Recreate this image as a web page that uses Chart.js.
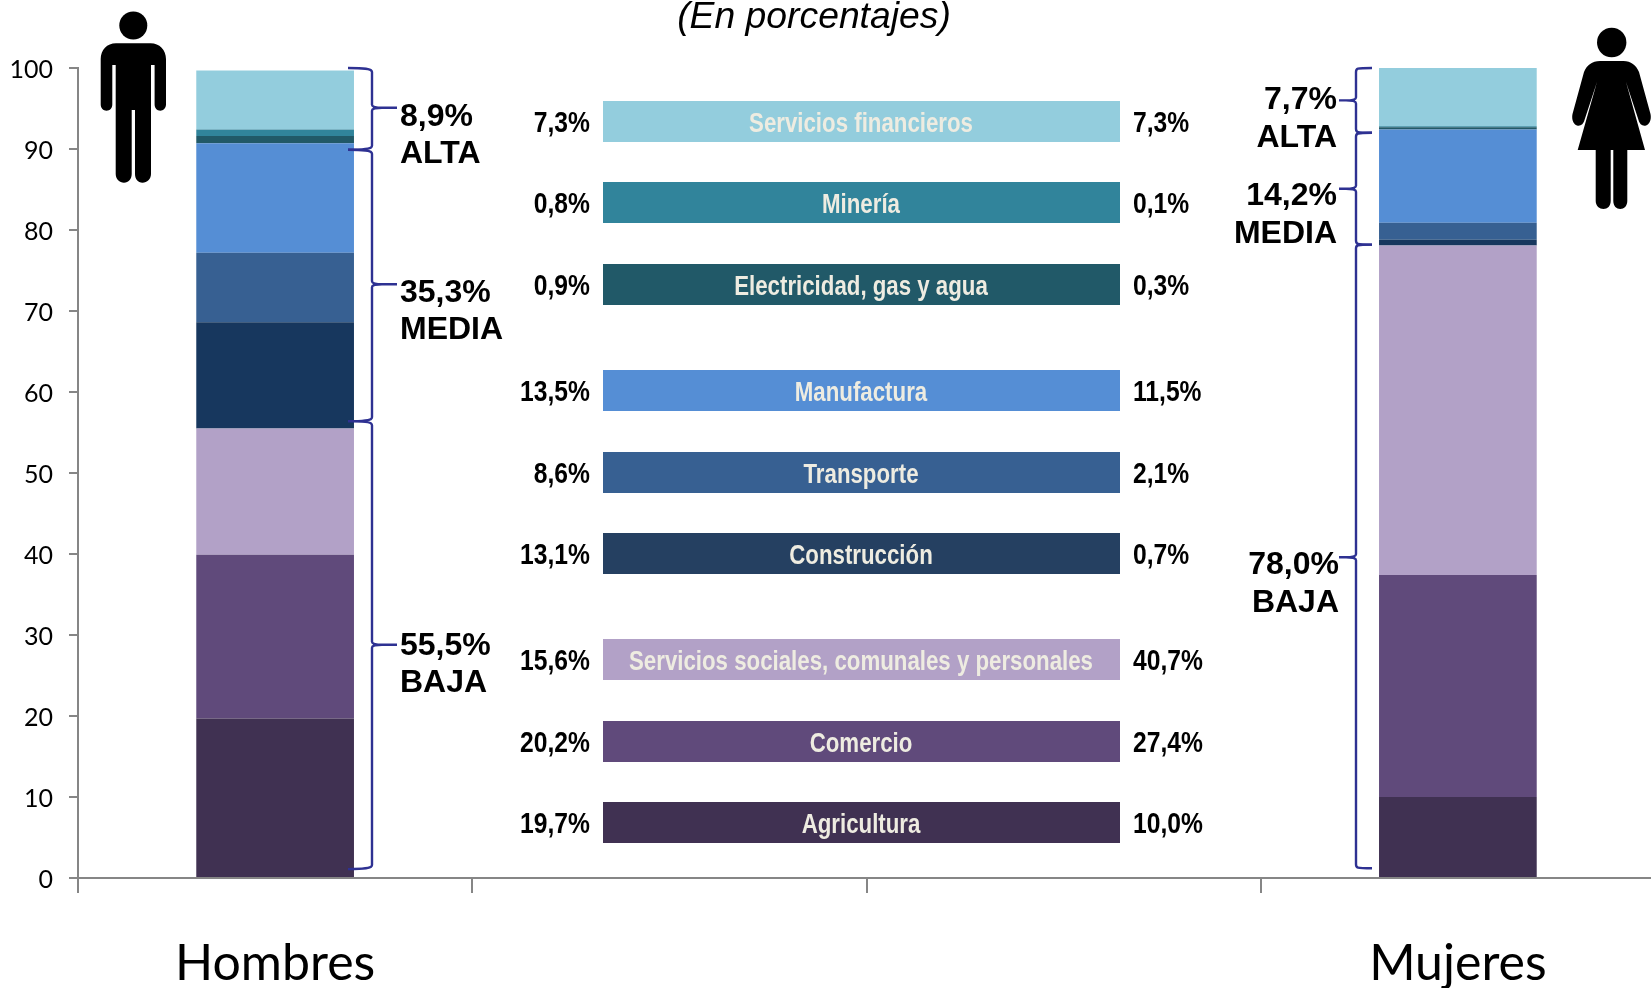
<!DOCTYPE html>
<html lang="es">
<head>
<meta charset="utf-8">
<title>Empleo por sector</title>
<script src="https://cdn.jsdelivr.net/npm/chart.js@4/dist/chart.umd.min.js"></script>
<style>
  html, body { margin: 0; padding: 0; background: #fff; overflow: hidden; }
  #wrap { position: relative; width: 1651px; height: 988px; overflow: hidden; }
  canvas { display: block; }
  #icons { position: absolute; left: 0; top: 0; }
</style>
</head>
<body>
<div id="wrap">
  <canvas id="chart" width="1655" height="988" style="width:1655px;height:988px"></canvas>
  <svg id="icons" width="1651" height="988" viewBox="0 0 1651 988">
    <!-- hombre -->
    <g fill="#000">
      <circle cx="133.3" cy="25.5" r="14"/>
      <path d="M116 43.3H150.6C159.5 43.3 166 50 166 59V104.5C166 108 163.2 110.7 160.3 110.7C157 110.7 154.6 108 154.6 104.5V65H151V174C151 179 147 182.7 142.5 182.7C138 182.7 135 179 135 174V110H131.7V174C131.7 179 128.5 182.7 124 182.7C119.5 182.7 115.7 179 115.7 174V65H112.3V104.5C112.3 108 110 110.7 106.5 110.7C103.3 110.7 100.7 108 100.7 104.5V59C100.7 50 107 43.3 116 43.3Z"/>
      <!-- mujer -->
      <circle cx="1611.7" cy="42.5" r="14.7"/>
      <path d="M1600 61H1623.5C1631 61 1636 65 1639 72L1650.5 114C1651.5 119 1650 124 1646 125.5C1642.5 126.5 1639.5 124 1638.5 120L1626 82L1645 150H1627.3V201C1627.3 206 1624 209 1620.3 209C1616.5 209 1613.3 206 1613.3 201V150H1610.7V201C1610.7 206 1607.5 209 1603.5 209C1599.5 209 1595.7 206 1595.7 201V150H1577.7L1597 82L1584.5 120C1583.5 124 1580.5 126.5 1577 125.5C1573 124 1571.5 119 1572.5 114L1584 72C1587 65 1592 61 1600 61Z"/>
    </g>
  </svg>
</div>
<script>
// orden de arriba hacia abajo, igual que la leyenda central
const sectors = [
  "Servicios financieros",
  "Minería",
  "Electricidad, gas y agua",
  "Manufactura",
  "Transporte",
  "Construcción",
  "Servicios sociales, comunales y personales",
  "Comercio",
  "Agricultura",
];
const hombres = [7.3, 0.8, 0.9, 13.5, 8.6, 13.1, 15.6, 20.2, 19.7];
const mujeres = [7.3, 0.1, 0.3, 11.5, 2.1, 0.7, 40.7, 27.4, 10.0];
const categories = ["Hombres", "", "", "Mujeres"];
const barColors = ["#93CDDD", "#31849B", "#215968", "#558ED5", "#376092", "#17375E", "#B2A1C7", "#604A7B", "#403152"];
const legendColors = ["#93CDDD", "#31849B", "#215968", "#558ED5", "#376092", "#254061", "#B2A1C7", "#604A7B", "#403152"];

// llaves: límites y punta en valores del eje
const hombresBrace = { ends: [100, 89.9, 56.4, 1.1], tips: [95.1, 73.3, 28.8] };
const mujeresBrace = { ends: [100, 92, 78.2, 1.2], tips: [96, 85.1, 39.6] };
const hombresGroups = ["8,9%", "ALTA", "35,3%", "MEDIA", "55,5%", "BAJA"];
const mujeresGroups = ["7,7%", "ALTA", "14,2%", "MEDIA", "78,0%", "BAJA"];

const legendTops = [101, 182, 264, 370, 452, 533, 639, 721, 802];
const hombresBaselines = [126, 163, 302, 339, 655, 692];
const mujeresBaselines = [109, 147, 205, 243, 574, 612];

const fmt = (v) => v.toFixed(1).replace(".", ",") + "%";

// no hay Arial Narrow instalada: Liberation Sans comprimida en horizontal
function narrowText(ctx, text, x, y, squeeze) {
  ctx.save();
  ctx.translate(x, y);
  ctx.scale(squeeze, 1);
  ctx.fillText(text, 0, 0);
  ctx.restore();
}

function drawBrace(ctx, yScale, brace, xSpine, xEnd, xTip) {
  const dir = Math.sign(xSpine - xEnd);
  ctx.strokeStyle = "#2E3192";
  ctx.lineWidth = 2.4;
  brace.tips.forEach((tip, i) => {
    const y0 = yScale.getPixelForValue(brace.ends[i]);
    const y1 = yScale.getPixelForValue(brace.ends[i + 1]);
    const ym = yScale.getPixelForValue(tip);
    ctx.beginPath();
    ctx.moveTo(xEnd, y0);
    ctx.bezierCurveTo(xEnd + dir * 16, y0, xSpine, y0 + 0.5, xSpine, y0 + 4);
    ctx.lineTo(xSpine, ym - 3);
    ctx.quadraticCurveTo(xSpine, ym, xSpine + dir * 10, ym);
    ctx.lineTo(xTip, ym);
    ctx.moveTo(xSpine + dir * 10, ym);
    ctx.quadraticCurveTo(xSpine, ym, xSpine, ym + 3);
    ctx.lineTo(xSpine, y1 - 4);
    ctx.bezierCurveTo(xSpine, y1 - 0.5, xEnd + dir * 16, y1, xEnd, y1);
    ctx.stroke();
  });
}

const annotations = {
  id: "annotations",
  afterDatasetsDraw(chart) {
    const { ctx } = chart;
    const yScale = chart.scales.y;
    ctx.save();

    // título
    ctx.fillStyle = "#000";
    ctx.font = 'italic 37.3px "Liberation Sans"';
    ctx.textAlign = "center";
    ctx.textBaseline = "alphabetic";
    ctx.fillText("(En porcentajes)", 814, 28);

    // leyenda central
    sectors.forEach((name, i) => {
      const top = legendTops[i];
      ctx.fillStyle = legendColors[i];
      ctx.fillRect(603, top, 517, 41);
      ctx.textBaseline = "alphabetic";
      ctx.font = 'bold 28px "Liberation Sans"';
      ctx.textAlign = "center";
      ctx.fillStyle = "#EEECE1";
      narrowText(ctx, name, 861, top + 31, 0.795);
      ctx.font = 'bold 29px "Liberation Sans"';
      ctx.fillStyle = "#000";
      ctx.textAlign = "right";
      narrowText(ctx, fmt(hombres[i]), 590, top + 31, 0.85);
      ctx.textAlign = "left";
      narrowText(ctx, fmt(mujeres[i]), 1133, top + 31, 0.85);
    });

    // llaves
    drawBrace(ctx, yScale, hombresBrace, 372, 348, 397);
    drawBrace(ctx, yScale, mujeresBrace, 1356, 1372, 1339);

    // grupos de productividad
    ctx.font = 'bold 32px "Liberation Sans"';
    ctx.fillStyle = "#000";
    ctx.textAlign = "left";
    hombresGroups.forEach((t, i) => ctx.fillText(t, 400, hombresBaselines[i]));
    ctx.textAlign = "right";
    mujeresGroups.forEach((t, i) => ctx.fillText(t, i < 4 ? 1337 : 1339, mujeresBaselines[i]));
    ctx.restore();
  },
};

new Chart(document.getElementById("chart"), {
  type: "bar",
  data: {
    labels: categories,
    datasets: sectors.map((name, i) => ({
      label: name,
      data: [hombres[i], null, null, mujeres[i]],
      backgroundColor: barColors[i],
    })).reverse(),
  },
  options: {
    responsive: false,
    animation: false,
    barPercentage: 0.4,
    categoryPercentage: 1,
    layout: { padding: { top: 68, left: 0, right: 0, bottom: 0 } },
    plugins: { legend: { display: false }, tooltip: { enabled: false } },
    scales: {
      x: {
        stacked: true,
        afterFit: (scale) => { scale.height = 110; },
        border: { color: "#868686", width: 2 },
        grid: { color: "#868686", lineWidth: 2, tickLength: 15, drawOnChartArea: false },
        ticks: {
          color: "#000",
          padding: 41,
          maxRotation: 0,
          autoSkip: false,
          font: { family: "Lato", size: 50 },
        },
      },
      y: {
        stacked: true,
        min: 0,
        max: 100,
        afterFit: (scale) => { scale.width = 78; },
        border: { color: "#868686", width: 2 },
        grid: { color: "#868686", lineWidth: 2, tickLength: 9, drawOnChartArea: false },
        ticks: {
          color: "#000",
          stepSize: 10,
          padding: 16,
          labelOffset: 2,
          font: { family: "Lato", size: 25 },
        },
      },
    },
  },
  plugins: [annotations],
});
</script>
</body>
</html>
